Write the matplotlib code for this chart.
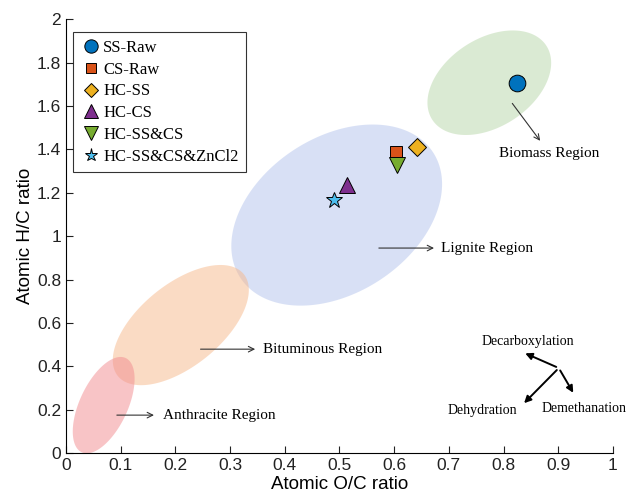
import numpy as np
import matplotlib
matplotlib.use("Agg")
import matplotlib.pyplot as plt

# sample points (O/C, H/C)
labels = ["SS-Raw", "CS-Raw", "HC-SS", "HC-CS", "HC-SS&CS", "HC-SS&CS&ZnCl2"]
oc = [0.825, 0.603, 0.642, 0.514, 0.605, 0.490]
hc = [1.705, 1.387, 1.410, 1.235, 1.330, 1.166]
markers = ["o", "s", "D", "^", "v", "*"]
sizes = [12, 9, 9, 12, 12, 12]
colors = ["#0072BD", "#D95319", "#EDB120", "#7E2F8E", "#77AC30", "#4DBEEE"]

# regions: name, center (O/C, H/C), semi axes (px), tilt (deg, screen), color
region_names = ["Biomass Region", "Lignite Region", "Bituminous Region", "Anthracite Region"]
region_cx = [0.774, 0.495, 0.210, 0.069]
region_cy = [1.707, 1.097, 0.590, 0.221]
region_a = [68, 115, 81, 52]
region_b = [44, 78, 41, 24]
region_ang = [33, 33, 39, 65]
region_col = ["#b7d6a8", "#b3c3ec", "#f7b88a", "#f28b8f"]

# label arrows: (start x, y) -> (end x, y), text pos
lab_x0 = [0.813, 0.567, 0.241, 0.088]
lab_y0 = [1.622, 0.945, 0.479, 0.175]
lab_x1 = [0.870, 0.678, 0.351, 0.166]
lab_y1 = [1.429, 0.945, 0.479, 0.175]
lab_tx = [0.792, 0.686, 0.360, 0.177]
lab_ty = [1.382, 0.945, 0.479, 0.175]

mech_names = ["Decarboxylation", "Dehydration", "Demethanation"]
mech_dx = [0.835, 0.834, 0.930]
mech_dy = [0.465, 0.221, 0.267]
mech_tx = [0.845, 0.762, 0.947]
mech_ty = [0.515, 0.198, 0.207]
mech_origin = (0.901, 0.392)

fig = plt.figure(figsize=(6.28, 5.04), dpi=100)
ax = fig.add_axes([0.105, 0.101, 0.871, 0.861])
ax.set_xlim(0, 1)
ax.set_ylim(0, 2)

# pixel scale for drawing tilted ellipses
sx = 547.0
sy = 217.0
t = np.linspace(0, 2 * np.pi, 200)
for cx, cy, a, b, ang, col in zip(region_cx, region_cy, region_a, region_b, region_ang, region_col):
    th = np.deg2rad(ang)
    px = a * np.cos(t) * np.cos(th) - b * np.sin(t) * np.sin(th)
    py = a * np.cos(t) * np.sin(th) + b * np.sin(t) * np.cos(th)
    ax.fill(cx + px / sx, cy + py / sy, color=col, alpha=0.5, lw=0, zorder=1)

serif = ["Liberation Serif", "DejaVu Serif"]
for name, x0, y0, x1, y1, tx, ty in zip(region_names, lab_x0, lab_y0, lab_x1, lab_y1, lab_tx, lab_ty):
    ax.annotate("", xy=(x1, y1), xytext=(x0, y0),
                arrowprops=dict(arrowstyle="->", color="#333333", lw=0.8), zorder=2)
    ax.text(tx, ty, name, family=serif, fontsize=11, va="center", ha="left", zorder=2)

for name, dx, dy, tx, ty in zip(mech_names, mech_dx, mech_dy, mech_tx, mech_ty):
    ax.annotate("", xy=(dx, dy), xytext=mech_origin,
                arrowprops=dict(arrowstyle="-|>", color="black", lw=1.4, mutation_scale=10), zorder=2)
    ax.text(tx, ty, name, family=serif, fontsize=10, va="center", ha="center", zorder=2)

for lab, x, y, m, s, c in zip(labels, oc, hc, markers, sizes, colors):
    ax.plot(x, y, linestyle="none", marker=m, markersize=s, color=c,
            markeredgecolor="black", markeredgewidth=0.7, label=lab, zorder=3)

leg = ax.legend(loc="upper left", bbox_to_anchor=(0.012, 0.97), prop={"family": serif, "size": 12},
                frameon=True, fancybox=False, edgecolor="black", handletextpad=0.1,
                handlelength=1.3, labelspacing=0.35, borderpad=0.45, markerscale=0.8,
                borderaxespad=0)
leg.get_frame().set_linewidth(0.8)

for sp in ["top", "right"]:
    ax.spines[sp].set_visible(False)
ax.set_xticks(np.arange(0, 1.01, 0.1))
ax.set_xticklabels(["0", "0.1", "0.2", "0.3", "0.4", "0.5", "0.6", "0.7", "0.8", "0.9", "1"])
ax.set_yticks(np.arange(0, 2.01, 0.2))
ax.set_yticklabels(["0", "0.2", "0.4", "0.6", "0.8", "1", "1.2", "1.4", "1.6", "1.8", "2"])
ax.tick_params(direction="in", length=5, labelsize=12.5, colors="#222222")
for lab in ax.get_xticklabels() + ax.get_yticklabels():
    lab.set_family(["Liberation Sans", "DejaVu Sans"])
ax.set_xlabel("Atomic O/C ratio", family=["Liberation Sans", "DejaVu Sans"], fontsize=13.5, labelpad=2)
ax.set_ylabel("Atomic H/C ratio", family=["Liberation Sans", "DejaVu Sans"], fontsize=13.5, labelpad=2)

fig.savefig("out.png", dpi=100)
